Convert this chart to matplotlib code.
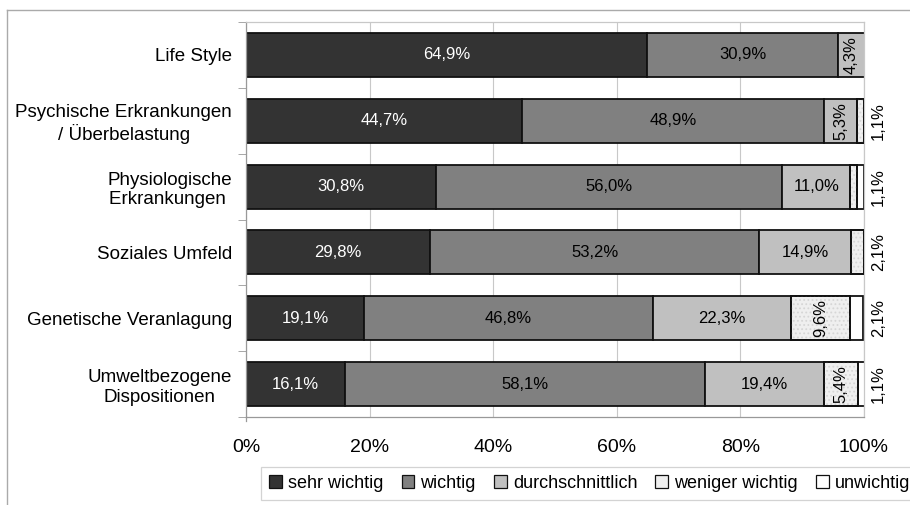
import numpy as np
import matplotlib.pyplot as plt
from matplotlib.patches import Rectangle
from matplotlib.lines import Line2D

plt.rcParams['font.family'] = ['Liberation Sans', 'DejaVu Sans']
plt.rcParams['hatch.linewidth'] = 0.8

# Data (percent)
categories = ["Life Style", "Psychische Erkrankungen\n/ Überbelastung",
              "Physiologische\nErkrankungen ", "Soziales Umfeld",
              "Genetische Veranlagung", "Umweltbezogene\nDispositionen"]
series_names = ["sehr wichtig", "wichtig", "durchschnittlich", "weniger wichtig", "unwichtig"]
sehr_wichtig = [64.9, 44.7, 30.8, 29.8, 19.1, 16.1]
wichtig = [30.9, 48.9, 56.0, 53.2, 46.8, 58.1]
durchschnittlich = [4.3, 5.3, 11.0, 14.9, 22.3, 19.4]
weniger_wichtig = [0.0, 1.1, 1.1, 2.1, 9.6, 5.4]
unwichtig = [0.0, 0.0, 1.1, 0.0, 2.1, 1.1]
# labels shown outside the bar on the right
outside_labels = ["", "1,1%", "1,1%", "2,1%", "2,1%", "1,1%"]

series = [sehr_wichtig, wichtig, durchschnittlich, weniger_wichtig, unwichtig]
colors = ["#333333", "#808080", "#c0c0c0", "#efefef", "#ffffff"]
text_colors = ["white", "black", "black", "black", "black"]

fig = plt.figure(figsize=(9.1, 5.05), dpi=100)
ax = fig.add_axes([246 / 910, 88 / 505, 618 / 910, 395 / 505])

y = np.arange(len(categories))
bar_h = 0.67
left = np.zeros(len(categories))
for i, vals in enumerate(series):
    vals = np.array(vals)
    bars = ax.barh(y, vals, left=left, height=bar_h, color=colors[i],
                   edgecolor="#111111", linewidth=1.3, zorder=2)
    if i == 3:
        # speckled texture for "weniger wichtig"
        for b, v, l in zip(bars, vals, left):
            if v > 0:
                ax.add_patch(Rectangle((l, b.get_y()), v, bar_h, facecolor="none",
                                       edgecolor="#d6d6d6", hatch="....", linewidth=0, zorder=3))
                ax.add_patch(Rectangle((l, b.get_y()), v, bar_h, facecolor="none",
                                       edgecolor="#111111", linewidth=1.3, zorder=4))
    for j, (v, l) in enumerate(zip(vals, left)):
        if v <= 0 or i == 4 or (i == 3 and v < 3):
            continue
        lab = f"{v:.1f}%".replace(".", ",")
        cx = l + v / 2
        rot = 90 if v < 10 else 0
        ax.text(cx, y[j], lab, rotation=rot, ha="center", va="center",
                fontsize=12, color=text_colors[i], zorder=5)
    left = left + vals

for j, lab in enumerate(outside_labels):
    if lab:
        ax.text(102.3, y[j], lab, rotation=90, ha="center", va="center",
                fontsize=12, color="black", clip_on=False)

ax.set_xlim(0, 100)
ax.set_ylim(len(categories) - 0.5, -0.5)
ax.set_xticks(np.arange(0, 101, 20))
ax.set_xticklabels([f"{t}%" for t in range(0, 101, 20)], fontsize=14)
ax.set_yticks(y)
ax.set_yticklabels(categories, fontsize=13.5, multialignment="center")
ax.tick_params(axis="y", length=0, pad=10)
ax.tick_params(axis="x", length=0, pad=16)
ax.set_yticks(np.arange(-0.5, len(categories) + 0.5, 1), minor=True)
ax.tick_params(axis="y", which="minor", length=6, color="#999999", direction="out")
ax.grid(axis="x", color="#c8c8c8", linewidth=0.8, zorder=0)
for s in ["top", "right"]:
    ax.spines[s].set_color("#c8c8c8")
for s in ["left", "bottom"]:
    ax.spines[s].set_color("#999999")
for s in ax.spines.values():
    s.set_linewidth(0.9)
ax.plot([0, 0], [5.5, 5.56], color="#999999", lw=0.9, clip_on=False)

# outer frame lines (top and left)
fig.add_artist(Line2D([7 / 910, 1.0], [1 - 10 / 505, 1 - 10 / 505], color="#aaaaaa", lw=1))
fig.add_artist(Line2D([7 / 910, 7 / 910], [0, 1 - 10 / 505], color="#aaaaaa", lw=1))

handles = [Rectangle((0, 0), 1, 1, facecolor=c, edgecolor="#111111", linewidth=0.9)
           for c in colors]
leg = fig.legend(handles, series_names, loc="upper left", bbox_to_anchor=(261 / 910, 1 - 467 / 505),
                 ncol=5, fontsize=13, frameon=True, fancybox=False, handlelength=0.7,
                 handleheight=0.7, handletextpad=0.35, columnspacing=1.0, borderpad=0.45,
                 borderaxespad=0)
leg.get_frame().set_edgecolor("#c8c8c8")
leg.get_frame().set_linewidth(0.9)

fig.savefig("out.png", dpi=100)
